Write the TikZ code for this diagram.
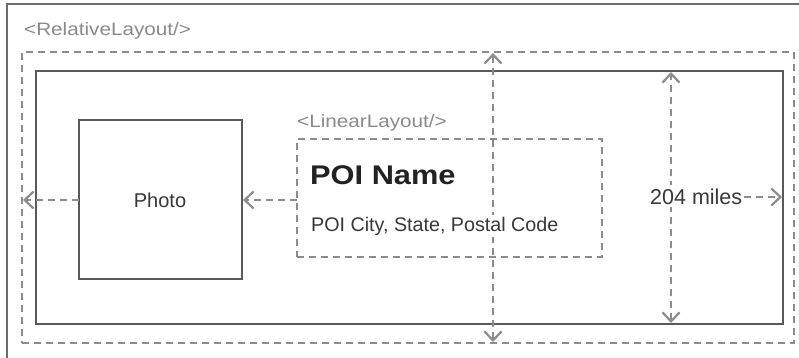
\documentclass[tikz,border=0pt]{standalone}
\usepackage{fontspec}
\setmainfont{Liberation Sans}
\usepackage{graphicx}
\usetikzlibrary{arrows.meta}
\definecolor{framecol}{HTML}{5A5A5A}
\definecolor{dashcol}{HTML}{8C8C8C}
\definecolor{labelcol}{HTML}{8A8A8A}
\definecolor{textcol}{HTML}{383838}
\definecolor{titlecol}{HTML}{222222}
\tikzset{
  barb/.tip={Straight Barb[length=9pt,width=17pt,line width=2.2pt]},
  dashbox/.style={draw=dashcol,line width=1.4pt,dash pattern=on 7pt off 5pt},
  dasharrow/.style={draw=dashcol,line width=1.4pt,dash pattern=on 7pt off 5pt,-barb},
  dasharrowboth/.style={draw=dashcol,line width=1.4pt,dash pattern=on 7pt off 5pt,barb-barb},
  labeltext/.style={inner sep=0pt,anchor=base west,text=labelcol,font=\fontsize{18}{20}\selectfont},
  bodytext/.style={inner sep=0pt,text=textcol,font=\fontsize{20}{22}\selectfont},
}
\begin{document}
\begin{tikzpicture}[x=1pt,y=-1pt]
\useasboundingbox (0,0) rectangle (799,357);
\fill[white] (0,0) rectangle (799,357);
% outer frame (partially visible)
\draw[draw=framecol!90,line width=1.6pt] (7,360) -- (7,4) -- (802,4);
% RelativeLayout dashed box
\node[dashbox,minimum width=772pt,minimum height=291pt,inner sep=0pt] (rel) at (408,197.5) {};
\node[labeltext] (rellabel) at (24,35) {\scalebox{1.15}[1]{<RelativeLayout/>}};
% inner solid box
\node[draw=framecol,line width=1.5pt,minimum width=747pt,minimum height=253pt,inner sep=0pt] (inner) at (409.5,197.5) {};
% photo
\node[draw=framecol,line width=1.5pt,minimum width=163pt,minimum height=159pt,inner sep=0pt] (photo) at (160.5,199.5) {};
\node[bodytext] (phototext) at (160,200) {Photo};
% linear layout
\node[dashbox,minimum width=305pt,minimum height=118pt,inner sep=0pt] (lin) at (449.5,198) {};
\node[labeltext] (linlabel) at (297,127) {\scalebox{1.15}[1]{<LinearLayout/>}};
% coordinates
\coordinate (vtop) at (493,53);
\coordinate (vbot) at (493,342);
\coordinate (rtop) at (671,72);
\coordinate (rbot) at (671,323);
\coordinate (milesend) at (782,197);
\coordinate (photoleft) at (79,200);
\coordinate (relleft) at (23,200);
\coordinate (linleft) at (297,200);
\coordinate (photoright) at (243,200);
\coordinate (milesstart) at (744,197);
% arrows
\draw[dasharrow] (photoleft) -- (relleft);
\draw[dasharrow] (linleft) -- (photoright);
\draw[dasharrowboth] (vbot) -- (vtop);
\draw[dasharrowboth] (rbot) -- (rtop);
\draw[dasharrow] (milesstart) -- (milesend);
% texts on top
\node[inner sep=0pt,anchor=base west,text=titlecol,font=\fontsize{27}{30}\selectfont\bfseries] (poiname) at (310,184) {\scalebox{1.14}[1]{POI Name}};
\node[bodytext,anchor=base west,font=\fontsize{19.7}{22}\selectfont,fill=white,inner ysep=2pt] (poicity) at (311,231) {POI City, State, Postal Code};
\node[bodytext,anchor=base west,font=\fontsize{21.5}{24}\selectfont,fill=white,inner ysep=3pt] (miles) at (650,204) {204 miles};
\end{tikzpicture}
\end{document}
